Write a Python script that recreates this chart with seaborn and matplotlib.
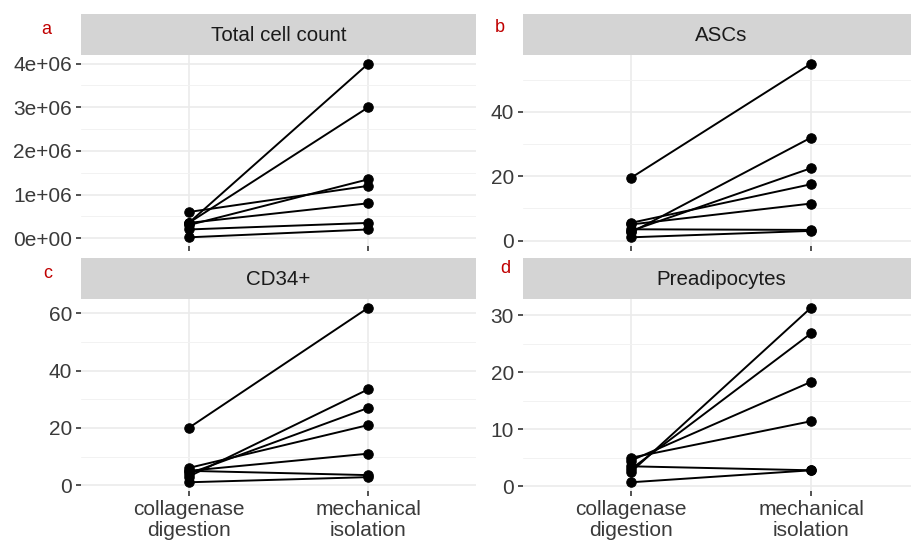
import numpy as np
import pandas as pd
import seaborn as sns
import matplotlib.pyplot as plt
from matplotlib.ticker import FixedLocator, FuncFormatter

sns.set_theme(style="white")
plt.rcParams['font.family'] = ['Liberation Sans', 'DejaVu Sans']

methods = ["collagenase\ndigestion", "mechanical\nisolation"]
panels = ["Total cell count", "ASCs", "CD34+", "Preadipocytes"]
letters = ["a", "b", "c", "d"]

# paired values per sample: (collagenase, mechanical)
total_coll = [350000, 350000, 600000, 300000, 350000, 200000, 20000]
total_mech = [4000000, 3000000, 1200000, 1350000, 800000, 350000, 200000]
ascs_coll = [19.5, 2.5, 3.0, 5.5, 5.0, 3.5, 1.0]
ascs_mech = [55.0, 32.0, 22.5, 17.5, 11.5, 3.3, 3.0]
cd34_coll = [20.0, 3.0, 4.0, 6.0, 5.0, 5.0, 1.0]
cd34_mech = [62.0, 33.5, 27.0, 21.0, 11.0, 3.5, 2.8]
pread_coll = [2.5, 3.0, 4.5, 5.0, 3.5, 0.7]
pread_mech = [31.3, 26.8, 18.3, 11.4, 2.8, 2.8]

series = {
    "Total cell count": (total_coll, total_mech),
    "ASCs": (ascs_coll, ascs_mech),
    "CD34+": (cd34_coll, cd34_mech),
    "Preadipocytes": (pread_coll, pread_mech),
}
major_ticks = {
    "Total cell count": [0, 1e6, 2e6, 3e6, 4e6],
    "ASCs": [0, 20, 40],
    "CD34+": [0, 20, 40, 60],
    "Preadipocytes": [0, 10, 20, 30],
}
minor_ticks = {
    "Total cell count": [5e5, 1.5e6, 2.5e6, 3.5e6],
    "ASCs": [10, 30, 50],
    "CD34+": [10, 30, 50],
    "Preadipocytes": [5, 15, 25],
}

rows = []
for p in panels:
    coll, mech = series[p]
    for i, (c, m) in enumerate(zip(coll, mech)):
        rows.append((p, i, methods[0], c))
        rows.append((p, i, methods[1], m))
df = pd.DataFrame(rows, columns=["panel", "sample", "method", "value"])

W, H = 911, 543
fig = plt.figure(figsize=(W / 100, H / 100), dpi=100)

# panel boxes in pixels: left, top, right, bottom
boxes = [(81, 55, 476, 246), (523, 55, 919, 246),
         (81, 299, 476, 491), (523, 299, 919, 491)]
strip_h = 41
letter_pos = [(46, 30), (500, 28), (48, 273), (505, 268)]

def fmt_sci(v, pos):
    if v == 0:
        return "0e+00"
    e = int(np.floor(np.log10(abs(v))))
    return f"{v / 10**e:.0f}e+{e:02d}"

for k, p in enumerate(panels):
    l, t, r, b = boxes[k]
    ax = fig.add_axes([l / W, 1 - b / H, (r - l) / W, (b - t) / H])
    sub = df[df.panel == p]
    sns.lineplot(data=sub, x="method", y="value", units="sample", estimator=None,
                 color="black", lw=1.4, marker="o", markersize=6.8,
                 markeredgecolor="black", ax=ax, zorder=3)
    ax.set_xlim(-0.6, 1.6)
    lo, hi = sub.value.min(), sub.value.max()
    pad = (hi - lo) * 0.05
    ax.set_ylim(lo - pad, hi + pad)

    ax.yaxis.set_major_locator(FixedLocator(major_ticks[p]))
    ax.yaxis.set_minor_locator(FixedLocator(minor_ticks[p]))
    if p == "Total cell count":
        ax.yaxis.set_major_formatter(FuncFormatter(fmt_sci))
    else:
        ax.yaxis.set_major_formatter(FuncFormatter(lambda v, pos: f"{v:g}"))

    ax.set_facecolor("white")
    for s in ax.spines.values():
        s.set_visible(False)
    ax.grid(True, which="major", color="#EBEBEB", lw=1.2)
    ax.grid(True, which="minor", axis="y", color="#F2F2F2", lw=0.7)
    ax.set_axisbelow(True)
    ax.tick_params(axis="both", which="major", length=3.5, width=1.2,
                   color="#333333", labelcolor="#3a3a3a", labelsize=15, pad=3,
                   bottom=True, left=True)
    ax.tick_params(axis="y", which="minor", length=0)
    ax.set_xlabel("")
    ax.set_ylabel("")
    if k < 2:
        ax.set_xticklabels([])
    else:
        ax.set_xticks([0, 1])
        ax.set_xticklabels(methods, linespacing=1.15)

    # facet strip
    sax = fig.add_axes([l / W, 1 - t / H, (r - l) / W, strip_h / H])
    sax.set_facecolor("#D4D4D4")
    sax.set_xticks([])
    sax.set_yticks([])
    for s in sax.spines.values():
        s.set_visible(False)
    sax.text(0.5, 0.48, p, ha="center", va="center", fontsize=14.8,
             color="#1A1A1A", transform=sax.transAxes)

    lx, ly = letter_pos[k]
    fig.text(lx / W, 1 - ly / H, letters[k], color="#C00000", fontsize=13,
             ha="center", va="center")

fig.savefig("out.png", dpi=100)
